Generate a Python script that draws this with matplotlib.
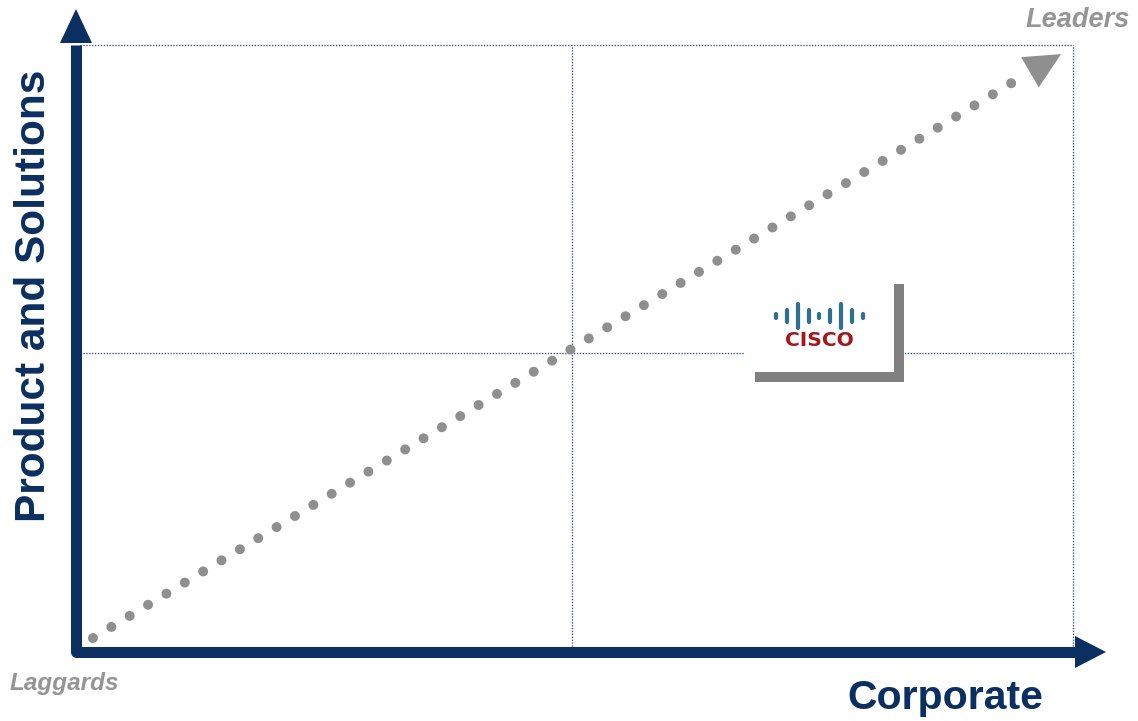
import matplotlib
matplotlib.use("Agg")
import matplotlib.pyplot as plt
from matplotlib.patches import Rectangle

# ---------------- data ----------------
x_axis_label = "Corporate"
y_axis_label = "Product and Solutions"
corner_low_label = "Laggards"
corner_high_label = "Leaders"
quadrant_mid_x = 0.497
quadrant_mid_y = 0.492
trend_start = (0.017, 0.023)
trend_last_dot = (0.938, 0.937)
trend_tip = (0.988, 0.985)
trend_dot_count = 51
company_name = "CISCO"
company_x = 0.7457
company_y = 0.542
logo_bar_heights = [8, 16, 28, 16, 8, 16, 28, 16, 8]

# ---------------- style ----------------
NAVY = "#0a2f60"
GRAY = "#8f8f8f"
GRAY_TXT = "#959595"
GRID = "#2f5085"
LOGO_BLUE = "#2f6f90"
LOGO_RED = "#a3171d"
FONT = "Liberation Sans"

W, H = 1138, 721
X0, Y0, QW, QH = 76, 652, 997, 607   # quadrant origin/size in pixels
fig = plt.figure(figsize=(W / 100, H / 100), dpi=100)
ax = fig.add_axes([X0 / W, (H - Y0) / H, QW / W, QH / H])
ax.set_xlim(0, 1)
ax.set_ylim(0, 1)
ax.axis("off")

PX = 1.0 / QW  # data units per pixel (x)
PY = 1.0 / QH  # data units per pixel (y)
PT = 0.72      # points per pixel


def dx(p):
    return (p - X0) / QW


def dy(p):
    return (Y0 - p) / QH


# ---------------- dotted quadrant frame ----------------
grid_kw = dict(color=GRID, lw=0.95, linestyle=(0, (1.0, 1.2)), clip_on=False, zorder=1)
ax.plot([0.004, 1], [1, 1], **grid_kw)
ax.plot([1, 1], [0, 1], **grid_kw)
ax.plot([0.004, 1], [quadrant_mid_y, quadrant_mid_y], **grid_kw)
ax.plot([quadrant_mid_x, quadrant_mid_x], [0, 1], **grid_kw)

# ---------------- main axes arrows ----------------
v_head_base = dy(43)
v_tip = dy(9)
h_head_base = dx(1075)
h_tip = dx(1106)
ax.plot([0, 0, h_head_base + 2 * PX], [v_head_base - 2 * PY, 0, 0], color=NAVY,
        lw=11 * PT, solid_joinstyle="round", solid_capstyle="butt",
        clip_on=False, zorder=5)
ax.annotate("", xy=(0, v_tip), xytext=(0, v_head_base), annotation_clip=False,
            arrowprops=dict(arrowstyle=f"-|>,head_length={34 * PT},head_width={16 * PT}",
                            mutation_scale=1, lw=0, color=NAVY, shrinkA=0, shrinkB=0),
            zorder=5)
ax.annotate("", xy=(h_tip, 0), xytext=(h_head_base, 0), annotation_clip=False,
            arrowprops=dict(arrowstyle=f"-|>,head_length={31 * PT},head_width={16 * PT}",
                            mutation_scale=1, lw=0, color=NAVY, shrinkA=0, shrinkB=0),
            zorder=5)

# ---------------- dotted trend arrow ----------------
dot_px = 10.0
seg_px = ((trend_last_dot[0] - trend_start[0]) * QW) ** 2 + ((trend_last_dot[1] - trend_start[1]) * QH) ** 2
seg_px = seg_px ** 0.5
gap = seg_px / (trend_dot_count - 1) / dot_px
ax.plot([trend_start[0], trend_last_dot[0]], [trend_start[1], trend_last_dot[1]],
        color=GRAY, lw=dot_px * PT, linestyle=(0, (0.001, gap - 0.001)),
        dash_capstyle="round", clip_on=False, zorder=3)
head_base = (trend_tip[0] - (trend_tip[0] - trend_last_dot[0]) * 0.6,
             trend_tip[1] - (trend_tip[1] - trend_last_dot[1]) * 0.6)
ax.annotate("", xy=trend_tip, xytext=head_base, annotation_clip=False,
            arrowprops=dict(arrowstyle=f"-|>,head_length={36 * PT},head_width={17.5 * PT}",
                            mutation_scale=1, lw=0, color=GRAY, shrinkA=0, shrinkB=0),
            zorder=3)

# ---------------- company box (Cisco) ----------------
bw, bh = 149 * PX, 98 * PY
ax.add_patch(Rectangle((company_x - bw / 2 + 10 * PX, company_y - bh / 2 - 10 * PY), bw, bh,
                       facecolor="#808080", edgecolor="none", zorder=6))
ax.add_patch(Rectangle((company_x - bw / 2, company_y - bh / 2), bw, bh,
                       facecolor="white", edgecolor="none", zorder=7))
bar_center_y = company_y + 7 * PY
n = len(logo_bar_heights)
bar_xs = [company_x + (i - (n - 1) / 2) * 10.9 * PX for i in range(n)]
bar_lw = 4.2
lc = ax.vlines(bar_xs,
               [bar_center_y - (h - bar_lw) / 2 * PY for h in logo_bar_heights],
               [bar_center_y + (h - bar_lw) / 2 * PY for h in logo_bar_heights],
               colors=LOGO_BLUE, lw=bar_lw * PT, zorder=8)
lc.set_capstyle("round")
ax.text(company_x, company_y - 23 * PY, company_name, ha="center", va="baseline",
        fontsize=14.5, fontweight="bold", color=LOGO_RED, family="DejaVu Sans", zorder=8)

# ---------------- labels ----------------
ax.text(dx(45), dy(296), y_axis_label, rotation=90, rotation_mode="anchor",
        ha="center", va="baseline", fontsize=30.5, fontweight="bold", color=NAVY,
        family=FONT, clip_on=False)
ax.text(dx(945), dy(709), x_axis_label, ha="center", va="baseline", fontsize=29.5,
        fontweight="bold", color=NAVY, family=FONT, clip_on=False)
ax.text(dx(1078), dy(27), corner_high_label, ha="center", va="baseline", fontsize=19.5,
        fontweight="bold", fontstyle="italic", color=GRAY_TXT, family=FONT, clip_on=False)
ax.text(dx(64.5), dy(690), corner_low_label, ha="center", va="baseline", fontsize=17.5,
        fontweight="bold", fontstyle="italic", color=GRAY_TXT, family=FONT, clip_on=False)

fig.savefig("out.png", dpi=100, facecolor="white")
